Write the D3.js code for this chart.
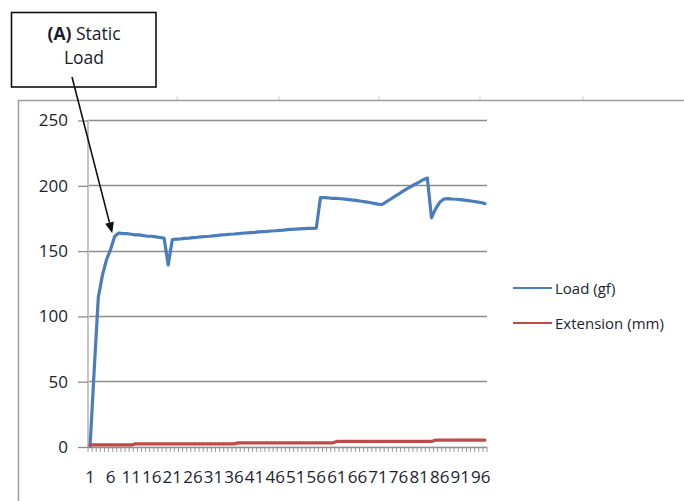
<!DOCTYPE html>
<html>
<head>
<meta charset="utf-8">
<script src="https://cdn.jsdelivr.net/npm/d3@7/dist/d3.min.js"></script>
<style>
  html, body { margin: 0; padding: 0; background: #fff; }
  svg { display: block; font-family: "Open Sans", "Liberation Sans", Arial, sans-serif; }
</style>
</head>
<body>
<svg id="chart" width="684" height="501"></svg>
<script>
// Sample index along the test run
const categories = [
  1,2,3,4,5,6,7,8,9,10,11,12,13,14,15,16,17,18,19,20,
  21,22,23,24,25,26,27,28,29,30,31,32,33,34,35,36,37,38,39,40,
  41,42,43,44,45,46,47,48,49,50,51,52,53,54,55,56,57,58,59,60,
  61,62,63,64,65,66,67,68,69,70,71,72,73,74,75,76,77,78,79,80,
  81,82,83,84,85,86,87,88,89,90,91,92,93,94,95,96,97
];

// Load (gf)
const load = [
  0, 58, 114, 131, 143, 151, 161, 163.5, 163, 163,
  162.5, 162, 162, 161.5, 161, 161, 160.5, 160, 159.5, 139,
  158.5, 158.8, 159, 159.3, 159.6, 160, 160.2, 160.5, 160.8, 161,
  161.3, 161.6, 162, 162.2, 162.5, 162.7, 163, 163.3, 163.5, 163.8,
  164, 164.3, 164.5, 164.7, 165, 165.2, 165.5, 165.7, 166, 166.2,
  166.4, 166.6, 166.8, 167, 167, 167.2, 190.5, 190.5, 190.3, 190,
  190, 189.7, 189.4, 189, 188.6, 188.2, 187.8, 187.3, 186.8, 186.2,
  185.6, 185.3, 187.3, 189.3, 191.3, 193.3, 195.3, 197.3, 199, 200.8,
  202.5, 204.3, 205.5, 175, 182, 187, 189.5, 189.8, 189.5, 189.3,
  189, 188.6, 188.2, 187.8, 187.3, 186.8, 186
];

// Extension (mm)
const extension = [
  1.2, 1.2, 1.2, 1.2, 1.2, 1.2, 1.2, 1.2, 1.2, 1.2,
  1.2, 2, 2, 2, 2, 2, 2, 2, 2, 2,
  2, 2, 2, 2, 2, 2, 2, 2, 2, 2,
  2, 2, 2, 2, 2, 2, 2.8, 2.8, 2.8, 2.8,
  2.8, 2.8, 2.8, 2.8, 2.8, 2.8, 2.8, 2.8, 2.8, 2.8,
  2.8, 2.8, 2.8, 2.8, 2.8, 2.8, 2.8, 2.8, 2.8, 2.8,
  3.9, 3.9, 3.9, 3.9, 3.9, 3.9, 3.9, 3.9, 3.9, 3.9,
  3.9, 3.9, 3.9, 3.9, 3.9, 3.9, 3.9, 3.9, 3.9, 3.9,
  3.9, 3.9, 3.9, 3.9, 4.9, 4.9, 4.9, 4.9, 4.9, 4.9,
  4.9, 4.9, 4.9, 4.9, 4.9, 4.9, 4.9
];

const yTicks = [0, 50, 100, 150, 200, 250];
const xTickLabels = [1, 6, 11, 16, 21, 26, 31, 36, 41, 46, 51, 56, 61, 66, 71, 76, 81, 86, 91, 96];
const seriesNames = ["Load (gf)", "Extension (mm)"];
const seriesColors = ["#4a7ebb", "#be4b48"];
const annotationLines = [["(A)", " Static"], ["", "Load"]];
const annotatedIndex = 7;

const W = 684, H = 501;
const plot = { left: 88, right: 487, top: 120, bottom: 446.5 };
const textColor = "#232330";
const gridColor = "#8c8c8c";

const svg = d3.select("#chart");

const x = d3.scaleBand().domain(categories).range([plot.left, plot.right]).padding(0);
const y = d3.scaleLinear().domain([0, 250]).range([plot.bottom, plot.top]);
const cx = c => x(c) + x.bandwidth() / 2;

// Outer chart frame (top and left edges)
svg.append("path")
  .attr("d", `M18.5,${H + 2}V100.5H${W + 2}`)
  .attr("fill", "none")
  .attr("stroke", "#9d9d9d")
  .attr("stroke-width", 1.5);
// small marks on the frame's top edge
svg.append("g").selectAll("line")
  .data([177, 279, 379, 480, 583])
  .join("line")
  .attr("x1", d => d).attr("x2", d => d)
  .attr("y1", 96.5).attr("y2", 100)
  .attr("stroke", "#c8c8c8").attr("stroke-width", 1);

// Horizontal gridlines
svg.append("g").selectAll("line")
  .data(yTicks)
  .join("line")
  .attr("x1", plot.left).attr("x2", plot.right)
  .attr("y1", d => Math.round(y(d)) + 0.5).attr("y2", d => Math.round(y(d)) + 0.5)
  .attr("stroke", gridColor).attr("stroke-width", 1.3);

// Vertical axis line
svg.append("line")
  .attr("x1", plot.left).attr("x2", plot.left)
  .attr("y1", plot.top).attr("y2", plot.bottom + 1)
  .attr("stroke", "#c4c4c4").attr("stroke-width", 2);

// Y axis ticks and labels
const yAxis = svg.append("g")
  .attr("transform", `translate(${plot.left},0.5)`)
  .call(d3.axisLeft(y).tickValues(yTicks).tickSize(10).tickPadding(10));
yAxis.select(".domain").remove();
yAxis.selectAll(".tick line").attr("stroke", gridColor).attr("stroke-width", 1.3);
yAxis.selectAll(".tick text")
  .attr("fill", textColor)
  .style("font-size", "17px")
  .style("font-family", "'Open Sans', 'Liberation Sans', Arial, sans-serif");

// X axis: tick marks between categories
const boundaries = categories.map(c => x(c)).concat([x(categories[categories.length - 1]) + x.bandwidth()]);
svg.append("g").selectAll("line")
  .data(boundaries)
  .join("line")
  .attr("x1", d => d).attr("x2", d => d)
  .attr("y1", plot.bottom).attr("y2", plot.bottom + 5.5)
  .attr("stroke", "#9a9a9a").attr("stroke-width", 1);

// X axis labels
svg.append("g").selectAll("text")
  .data(xTickLabels)
  .join("text")
  .attr("x", d => cx(d))
  .attr("y", 483)
  .attr("text-anchor", "middle")
  .attr("fill", textColor)
  .style("font-size", "17px")
  .text(d => d);

// Series lines
const lineGen = d3.line()
  .x(d => cx(d.c))
  .y(d => y(d.v));
const series = [load, extension];
series.forEach((vals, i) => {
  svg.append("path")
    .datum(categories.map((c, j) => ({ c, v: vals[j] })))
    .attr("d", lineGen)
    .attr("fill", "none")
    .attr("stroke", seriesColors[i])
    .attr("stroke-width", 3.2)
    .attr("stroke-linejoin", "round")
    .attr("stroke-linecap", "round");
});

// Legend
const legend = svg.append("g");
seriesNames.forEach((name, i) => {
  const ly = 288 + i * 35;
  legend.append("line")
    .attr("x1", 513).attr("x2", 552)
    .attr("y1", ly).attr("y2", ly)
    .attr("stroke", seriesColors[i]).attr("stroke-width", 2);
  legend.append("text")
    .attr("x", 555).attr("y", ly + 5.5)
    .attr("fill", textColor)
    .style("font-size", "15px")
    .text(name);
});

// Annotation callout
svg.append("rect")
  .attr("x", 11.5).attr("y", 12.5)
  .attr("width", 144.5).attr("height", 74.5)
  .attr("fill", "#fff")
  .attr("stroke", "#111").attr("stroke-width", 1.6);
annotationLines.forEach((parts, i) => {
  const t = svg.append("text")
    .attr("x", 84).attr("y", 39.5 + i * 24.5)
    .attr("text-anchor", "middle")
    .attr("fill", "#1a1a2e")
    .style("font-size", "17.5px");
  if (parts[0]) t.append("tspan").style("font-weight", "bold").text(parts[0]);
  t.append("tspan").text(parts[1]);
});

// Arrow from the callout to the load curve
const tipX = cx(annotatedIndex) - 2.5;
const tipY = y(load[annotatedIndex - 1]) - 3;
const startX = 72, startY = 77;
const ang = Math.atan2(tipY - startY, tipX - startX);
const headLen = 11, headHalf = 4.5;
const baseX = tipX - headLen * Math.cos(ang), baseY = tipY - headLen * Math.sin(ang);
svg.append("line")
  .attr("x1", startX).attr("y1", startY)
  .attr("x2", baseX).attr("y2", baseY)
  .attr("stroke", "#111").attr("stroke-width", 1.6);
svg.append("path")
  .attr("d", `M${tipX},${tipY}L${baseX + headHalf * Math.sin(ang)},${baseY - headHalf * Math.cos(ang)}L${baseX - headHalf * Math.sin(ang)},${baseY + headHalf * Math.cos(ang)}Z`)
  .attr("fill", "#111");
</script>
</body>
</html>
